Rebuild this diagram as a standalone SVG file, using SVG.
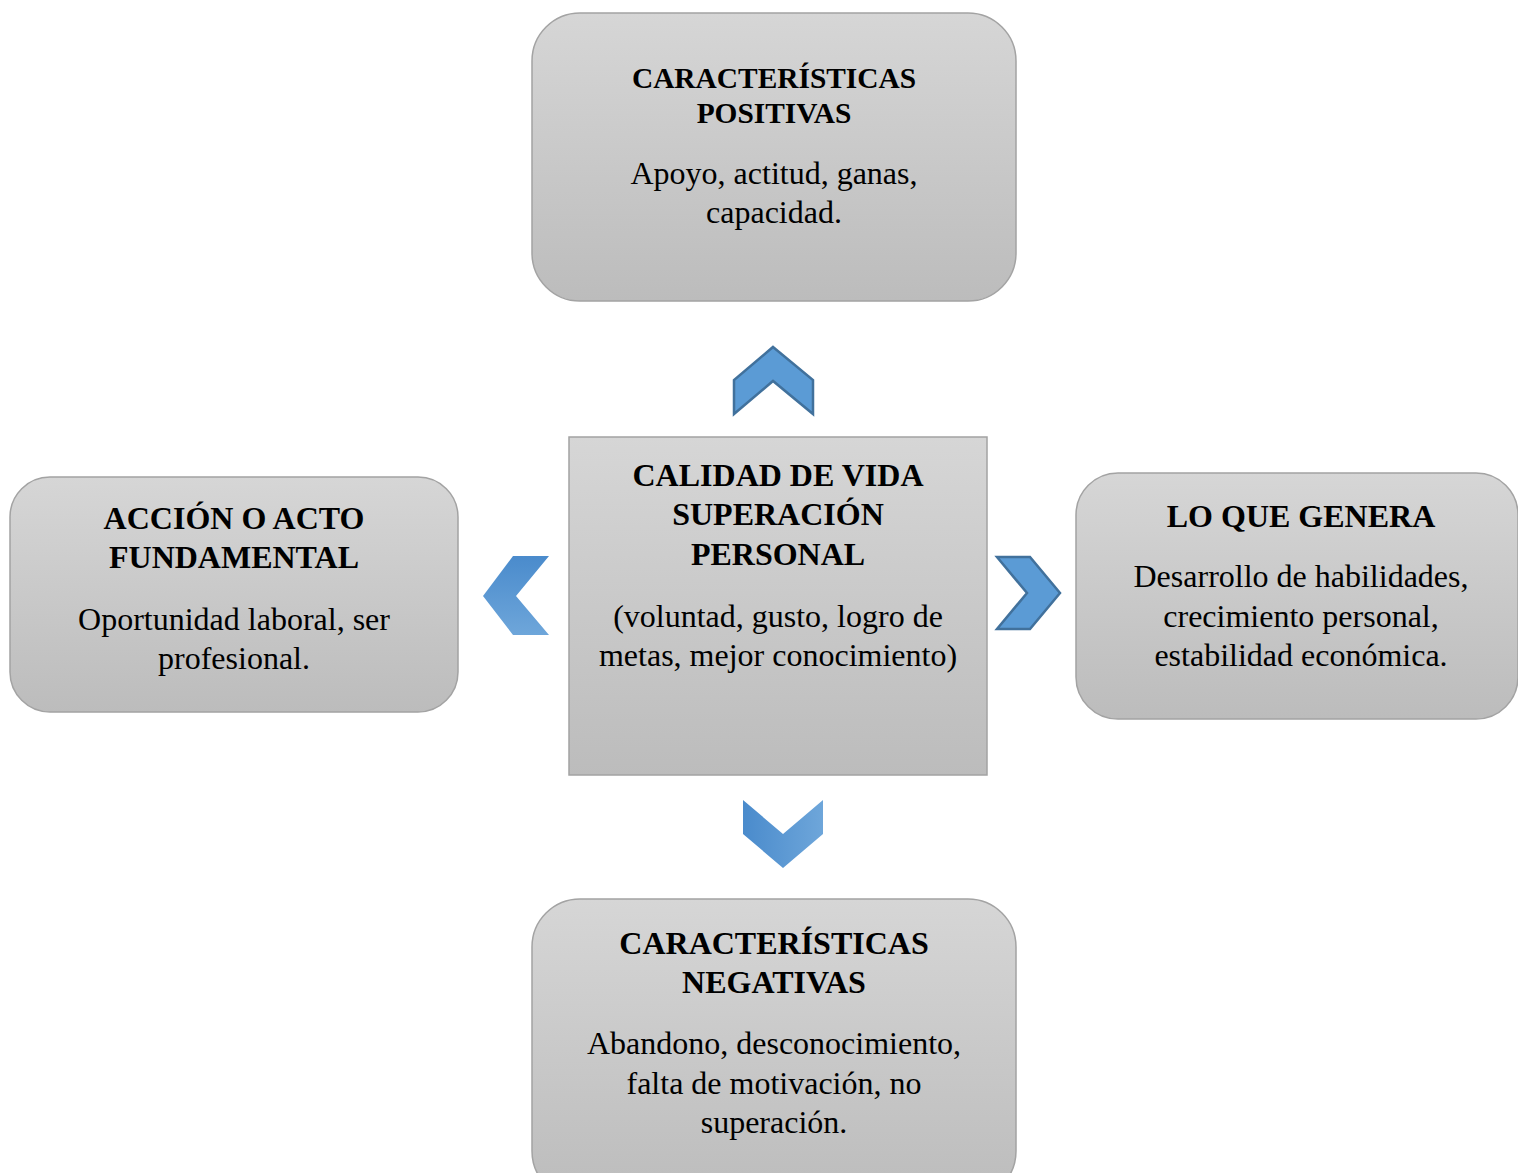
<svg xmlns="http://www.w3.org/2000/svg" width="1518" height="1173" viewBox="0 0 1518 1173">
<defs>
<linearGradient id="gbox" x1="0" y1="0" x2="0" y2="1">
<stop offset="0" stop-color="#d6d6d6"/>
<stop offset="1" stop-color="#bcbcbc"/>
</linearGradient>
<linearGradient id="gv" x1="0" y1="0" x2="0" y2="1">
<stop offset="0" stop-color="#4a8bcc"/>
<stop offset="1" stop-color="#6ea6da"/>
</linearGradient>
<linearGradient id="gh" x1="0" y1="0" x2="1" y2="0">
<stop offset="0" stop-color="#4a8bcc"/>
<stop offset="1" stop-color="#6ea6da"/>
</linearGradient>
<style>
.box{fill:url(#gbox);stroke:#a3a3a3;stroke-width:1.5}
.t{font-family:"Liberation Serif","Times New Roman",serif;fill:#000;text-anchor:middle}
.b{font-weight:bold;font-size:32px}
.r{font-size:32px}
.chs{fill:#5b9bd5;stroke:#41719c;stroke-width:2.5;stroke-linejoin:miter}
</style>
</defs>
<g id="connectors">
<polygon class="chs" points="773,347 813,380 813,414 773,381 734,414 734,380"/>
<polygon fill="url(#gv)" points="513,556 549,556 516,596 549,635 513,635 483,596"/>
<polygon class="chs" points="997,557 1030,557 1060,593 1030,629 997,629 1027,593"/>
<polygon fill="url(#gh)" points="743,800 783,834 823,800 823,834 783,868 743,834"/>
</g>
<g id="node-top">
<rect class="box" x="532" y="13" width="484" height="288" rx="48"/>
<text class="t b" x="774" y="88" style="font-size:29.4px">CARACTERÍSTICAS</text>
<text class="t b" x="774" y="123" style="font-size:29.4px">POSITIVAS</text>
<text class="t r" x="774" y="184">Apoyo, actitud, ganas,</text>
<text class="t r" x="774" y="223">capacidad.</text>
</g>
<g id="node-left">
<rect class="box" x="10" y="477" width="448" height="235" rx="40"/>
<text class="t b" x="234" y="529">ACCIÓN O ACTO</text>
<text class="t b" x="234" y="568">FUNDAMENTAL</text>
<text class="t r" x="234" y="630">Oportunidad laboral, ser</text>
<text class="t r" x="234" y="669">profesional.</text>
</g>
<g id="node-center">
<rect class="box" x="569" y="437" width="418" height="338"/>
<text class="t b" x="778" y="486">CALIDAD DE VIDA</text>
<text class="t b" x="778" y="525">SUPERACIÓN</text>
<text class="t b" x="778" y="565">PERSONAL</text>
<text class="t r" x="778" y="627">(voluntad, gusto, logro de</text>
<text class="t r" x="778" y="666">metas, mejor conocimiento)</text>
</g>
<g id="node-right">
<rect class="box" x="1076" y="473" width="442" height="246" rx="42"/>
<text class="t b" x="1301" y="527">LO QUE GENERA</text>
<text class="t r" x="1301" y="587">Desarrollo de habilidades,</text>
<text class="t r" x="1301" y="627">crecimiento personal,</text>
<text class="t r" x="1301" y="666">estabilidad económica.</text>
</g>
<g id="node-bottom">
<rect class="box" x="532" y="899" width="484" height="300" rx="48"/>
<text class="t b" x="774" y="954">CARACTERÍSTICAS</text>
<text class="t b" x="774" y="993">NEGATIVAS</text>
<text class="t r" x="774" y="1054">Abandono, desconocimiento,</text>
<text class="t r" x="774" y="1094">falta de motivación, no</text>
<text class="t r" x="774" y="1133">superación.</text>
</g>
</svg>
